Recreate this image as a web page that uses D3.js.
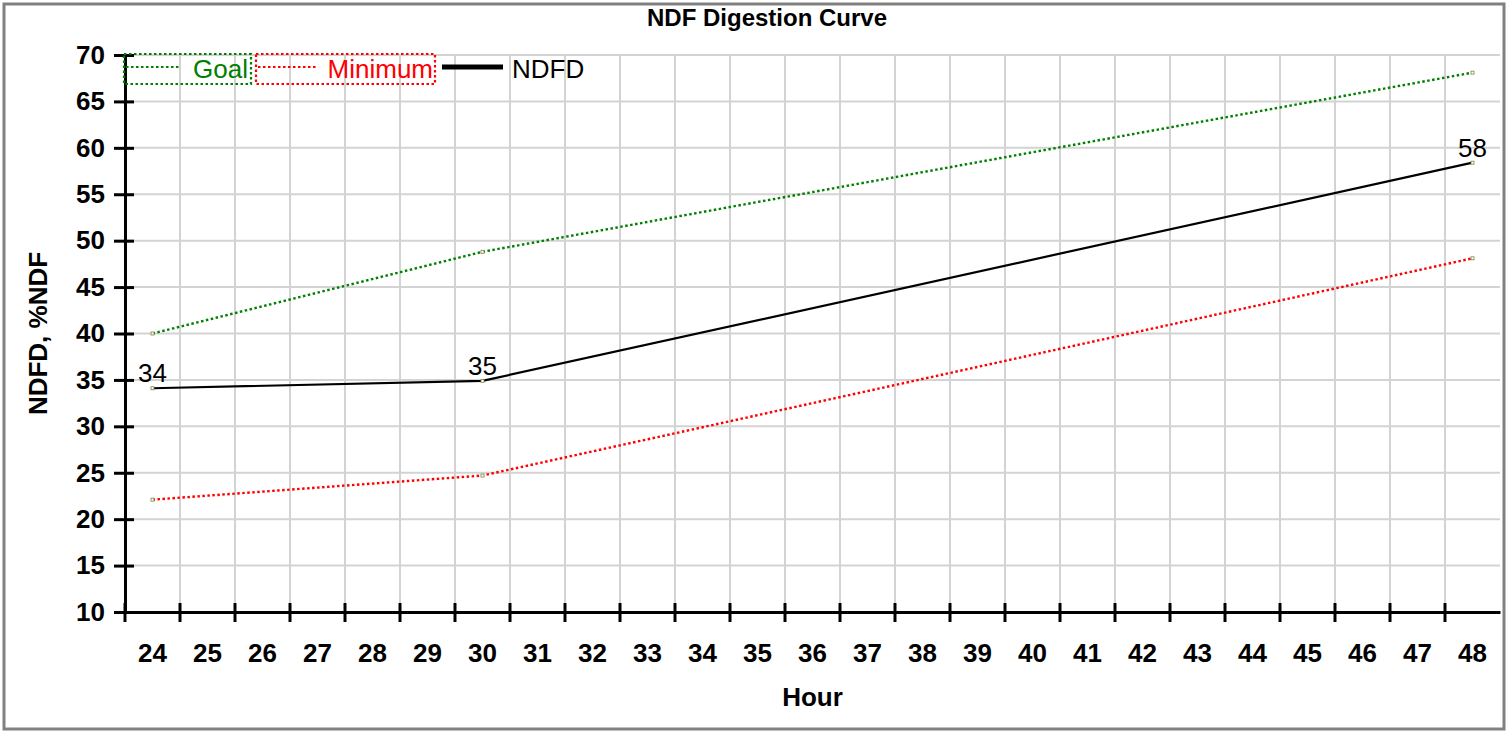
<!DOCTYPE html>
<html>
<head>
<meta charset="utf-8">
<script src="https://cdn.jsdelivr.net/npm/d3@7"></script>
<style>
  body { margin: 0; background: #fff; }
  svg { display: block; font-family: Arial, "Liberation Sans", sans-serif; }
</style>
</head>
<body>
<div id="chart"></div>
<script>
// chart data
var hours = d3.range(24, 49).map(String)
var sampleHours = ['24', '30', '48']
var goal = [40.0, 48.8, 68.1]
var minimum = [22.1, 24.7, 48.1]
var ndfd = [34.1, 34.9, 58.4]
var yTicks = d3.range(10, 71, 5)

var width = 1512, height = 732
var margin = {left: 125, right: 12, top: 55, bottom: 120}

var svg = d3.select('#chart').append('svg')
  .attr('width', width)
  .attr('height', height)

svg.append('rect')
  .attr('x', 4).attr('y', 4)
  .attr('width', 1500).attr('height', 725)
  .attr('fill', '#fff')
  .attr('stroke', '#808080')
  .attr('stroke-width', 3)

var x = d3.scaleBand()
  .domain(hours)
  .range([margin.left, width - margin.right])
  .padding(0)

var y = d3.scaleLinear()
  .domain([10, 70])
  .range([height - margin.bottom, margin.top])

function cx(h) { return x(h) + x.bandwidth() / 2 }

// grid
var grid = svg.append('g').attr('stroke', '#d3d3d3').attr('stroke-width', 2)
grid.selectAll('.hg').data(yTicks.slice(1)).enter().append('line')
  .attr('x1', margin.left).attr('x2', width - margin.right)
  .attr('y1', d => y(d)).attr('y2', d => y(d))
grid.selectAll('.vg').data(hours.slice(1)).enter().append('line')
  .attr('x1', d => x(d)).attr('x2', d => x(d))
  .attr('y1', y(10)).attr('y2', y(70))

// x axis
var xAxis = d3.axisBottom(x).tickSize(0).tickPadding(32)
var gx = svg.append('g')
  .attr('transform', 'translate(0,' + y(10) + ')')
  .call(xAxis)
gx.select('.domain').attr('stroke', '#000').attr('stroke-width', 3)
gx.selectAll('text').attr('font-size', 26).attr('font-weight', 'bold').attr('fill', '#000')
  .attr('font-family', 'Arial, "Liberation Sans", sans-serif')
gx.selectAll('.xt').data(hours).enter().append('line')
  .attr('class', 'xt')
  .attr('x1', d => x(d)).attr('x2', d => x(d))
  .attr('y1', -9).attr('y2', 10)
  .attr('stroke', '#000').attr('stroke-width', 3)

// y axis
var yAxis = d3.axisLeft(y).tickValues(yTicks).tickSize(0).tickPadding(20)
var gy = svg.append('g')
  .attr('transform', 'translate(' + margin.left + ',0)')
  .call(yAxis)
gy.select('.domain').attr('stroke', '#000').attr('stroke-width', 3)
gy.selectAll('.tick line').remove()
gy.selectAll('.tick').append('line')
  .attr('x1', -11).attr('x2', 9)
  .attr('stroke', '#000').attr('stroke-width', 3)
gy.selectAll('text').attr('font-size', 26).attr('font-weight', 'bold').attr('fill', '#000')
  .attr('font-family', 'Arial, "Liberation Sans", sans-serif')

// titles
svg.append('text')
  .attr('x', 767).attr('y', 26)
  .attr('text-anchor', 'middle')
  .attr('font-size', 24).attr('font-weight', 'bold')
  .text('NDF Digestion Curve')

svg.append('text')
  .attr('x', (margin.left + width - margin.right) / 2).attr('y', 706)
  .attr('text-anchor', 'middle')
  .attr('font-size', 26).attr('font-weight', 'bold')
  .text('Hour')

svg.append('text')
  .attr('transform', 'translate(47,' + (y(10) + y(70)) / 2 + ') rotate(-90)')
  .attr('text-anchor', 'middle')
  .attr('font-size', 26).attr('font-weight', 'bold')
  .text('NDFD, %NDF')

// series
var line = d3.line()
  .x((d, i) => cx(sampleHours[i]))
  .y(d => y(d))

var series = [
  {name: 'Goal', values: goal, color: '#008000', dash: '2.5,2.5', width: 2.4},
  {name: 'Minimum', values: minimum, color: '#ff0000', dash: '2.5,2.5', width: 2.4},
  {name: 'NDFD', values: ndfd, color: '#000', dash: null, width: 2.2}
]

series.forEach(function(s) {
  svg.append('path')
    .datum(s.values)
    .attr('d', line)
    .attr('fill', 'none')
    .attr('stroke', s.color)
    .attr('stroke-width', s.width)
    .attr('stroke-dasharray', s.dash)
  svg.selectAll(null).data(s.values).enter().append('rect')
    .attr('x', (d, i) => cx(sampleHours[i]) - 1.5)
    .attr('y', d => y(d) - 1.5)
    .attr('width', 3).attr('height', 3)
    .attr('fill', '#fff').attr('stroke', '#808040').attr('stroke-width', 0.8)
})

svg.selectAll('.lbl').data(ndfd).enter().append('text')
  .attr('x', (d, i) => cx(sampleHours[i]))
  .attr('y', d => y(d) - 6)
  .attr('text-anchor', 'middle')
  .attr('font-size', 26)
  .text(d => Math.round(d))

// legend
var legend = [
  {name: 'Goal', color: '#008000', box: [124, 251], sample: [126, 180], textEnd: 248},
  {name: 'Minimum', color: '#ff0000', box: [256, 435], sample: [258, 318], textEnd: 433}
]
legend.forEach(function(l) {
  svg.append('rect')
    .attr('x', l.box[0]).attr('y', 54)
    .attr('width', l.box[1] - l.box[0]).attr('height', 30)
    .attr('fill', 'none')
    .attr('stroke', l.color).attr('stroke-width', 2.2)
    .attr('stroke-dasharray', '2.5,2.5')
  svg.append('line')
    .attr('x1', l.sample[0]).attr('x2', l.sample[1])
    .attr('y1', 67).attr('y2', 67)
    .attr('stroke', l.color).attr('stroke-width', 2.2)
    .attr('stroke-dasharray', '2.5,2.5')
  svg.append('text')
    .attr('x', l.textEnd).attr('y', 78)
    .attr('text-anchor', 'end')
    .attr('font-size', 26)
    .attr('fill', l.color)
    .text(l.name)
})
svg.append('line')
  .attr('x1', 442).attr('x2', 503)
  .attr('y1', 67).attr('y2', 67)
  .attr('stroke', '#000').attr('stroke-width', 5)
svg.append('text')
  .attr('x', 512).attr('y', 78)
  .attr('font-size', 26)
  .text('NDFD')
</script>
</body>
</html>
